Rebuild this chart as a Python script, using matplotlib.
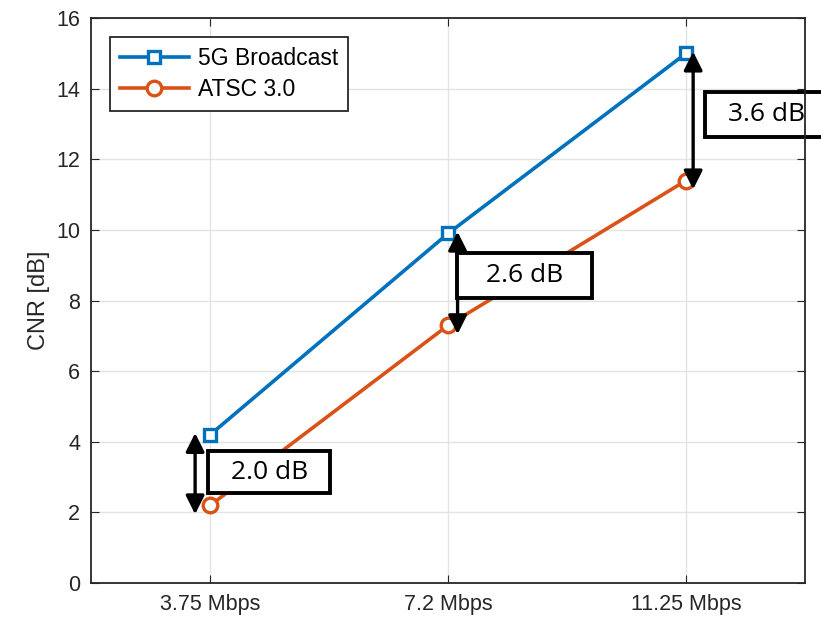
import numpy as np
import matplotlib
matplotlib.use('Agg')
import matplotlib.pyplot as plt
from matplotlib.patches import Rectangle

rates = ['3.75 Mbps', '7.2 Mbps', '11.25 Mbps']
cnr_5g = [4.2, 9.9, 15.0]
cnr_atsc = [2.2, 7.3, 11.4]
gap_labels = ['2.0 dB', '2.6 dB', '3.6 dB']

plt.rcParams['font.family'] = ['Liberation Sans', 'DejaVu Sans']

fig = plt.figure(figsize=(8.21, 6.23), dpi=100)
ax = fig.add_axes([0.111, 0.064, 0.8695, 0.907])

x = np.arange(1, len(rates) + 1)
ax.plot(x, cnr_5g, color='#0072BD', lw=2.6, marker='s', ms=8, mfc='white', mew=2.4, label='5G Broadcast')
ax.plot(x, cnr_atsc, color='#D95319', lw=2.6, marker='o', ms=10.5, mfc='white', mew=2.4, label='ATSC 3.0')

# double arrows + boxed labels
arrow_x = [x[0] - 0.063, x[1] + 0.04, x[2] + 0.03]
box_pos = [(0.992, 2.55, 0.512, 1.19), (2.038, 8.07, 0.567, 1.28), (3.08, 12.63, 0.6, 1.28)]
for i in range(len(x)):
    ax.annotate('', xy=(arrow_x[i], cnr_atsc[i] - 0.25), xytext=(arrow_x[i], cnr_5g[i] + 0.05),
                arrowprops=dict(arrowstyle='<|-|>', color='black', lw=2.4, mutation_scale=28,
                                shrinkA=0, shrinkB=0), annotation_clip=False)
    bx, by, bw, bh = box_pos[i]
    ax.add_patch(Rectangle((bx, by), bw, bh, fill=True, facecolor='white', edgecolor='black',
                           lw=2.8, clip_on=False, zorder=3))
    tx = bx + bw / 2 if i < 2 else bx + 0.26
    ax.text(tx, by + bh / 2, gap_labels[i], ha='center', va='center', fontsize=19,
            family=['Open Sans', 'DejaVu Sans'], zorder=4, clip_on=False)

ax.set_xlim(0.5, 3.5)
ax.set_ylim(0, 16)
ax.set_xticks(x)
ax.set_xticklabels(rates)
ax.set_yticks(np.arange(0, 17, 2))
ax.set_ylabel('CNR [dB]', fontsize=17, color='#262626', labelpad=4)
ax.tick_params(direction='in', top=True, right=True, labelsize=15.5, colors='#262626', length=6, pad=8)
ax.grid(True, color='#e3e3e3', lw=1)
ax.set_axisbelow(True)
for s in ax.spines.values():
    s.set_color('#262626')
    s.set_linewidth(1.3)
    s.set_zorder(5)

leg = ax.legend(loc='upper left', bbox_to_anchor=(0.027, 0.966), fontsize=16.5, frameon=True, fancybox=False,
                edgecolor='#262626', framealpha=1, handlelength=3.0, borderpad=0.42, labelspacing=0.35,
                handletextpad=0.4, borderaxespad=0)
leg.get_frame().set_linewidth(1.3)

fig.savefig('out.png', dpi=100)
